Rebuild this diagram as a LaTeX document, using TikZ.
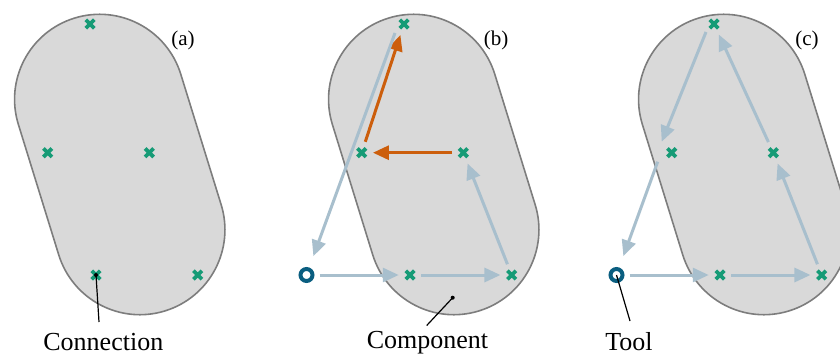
\documentclass[tikz,border=0pt]{standalone}
\usepackage{fontspec}
\setmainfont{Liberation Serif}
\usetikzlibrary{arrows.meta,shapes.misc}
\definecolor{capfill}{RGB}{217,217,217}
\definecolor{capdraw}{RGB}{125,125,125}
\definecolor{mkgreen}{RGB}{22,155,118}
\definecolor{arrblue}{RGB}{168,191,205}
\definecolor{arrorange}{RGB}{204,94,12}
\definecolor{toolblue}{RGB}{10,94,128}
\begin{document}
\begin{tikzpicture}[x=1pt,y=-1pt,
 capsule/.style={rounded rectangle, draw=capdraw, fill=capfill, line width=1.6pt, minimum width=306.5pt, minimum height=170pt, inner sep=0pt, rotate=-72.8},
 xmark/.style={cross out, draw=mkgreen, line width=3.8pt, minimum size=8.5pt, inner sep=0pt, outer sep=0pt},
 tool/.style={circle, draw=toolblue, line width=4pt, minimum size=12pt, inner sep=0pt, outer sep=0pt, fill=white},
 conn/.style={draw=arrblue, line width=3pt, -{Triangle[length=16pt,width=14pt]}, shorten <=7pt, shorten >=7pt},
 orconn/.style={conn, draw=arrorange},
 lbl/.style={font=\fontsize{26}{30}\selectfont, anchor=base, inner sep=0pt},
 tag/.style={font=\fontsize{21}{25}\selectfont, inner sep=0pt},
 leader/.style={draw=black, line width=1.2pt},
 dotmark/.style={circle, fill=black, inner sep=0pt, minimum size=4pt}
]
\path[use as bounding box] (0,0) rectangle (840,356);
\clip (0,0) rectangle (840,356);

% capsules
\node[capsule] (capa) at (119.75,164.5) {};
\node[capsule] (capb) at (433.75,164.5) {};
\node[capsule] (capc) at (743.75,164.5) {};

% panel tags
\node[tag] (taga) at (183,40) {(a)};
\node[tag] (tagb) at (496,40) {(b)};
\node[tag] (tagc) at (807,40) {(c)};

% connection points
\node[xmark] (a1) at (90,24) {};
\node[xmark] (a2) at (47.7,152.7) {};
\node[xmark] (a3) at (149.3,152.7) {};
\node[xmark] (a4) at (96,275) {};
\node[xmark] (a5) at (197.7,275) {};

\node[xmark] (b1) at (404,24) {};
\node[xmark] (b2) at (361.7,152.7) {};
\node[xmark] (b3) at (463.3,152.7) {};
\node[xmark] (b4) at (410,275) {};
\node[xmark] (b5) at (511.7,275) {};

\node[xmark] (c1) at (714,24) {};
\node[xmark] (c2) at (671.7,152.7) {};
\node[xmark] (c3) at (773.3,152.7) {};
\node[xmark] (c4) at (720,275) {};
\node[xmark] (c5) at (821.7,275) {};

% tools
\node[tool] (tb) at (306.5,275) {};
\node[tool] (tc) at (616.5,275) {};

% panel (b) paths
\draw[conn] (tb) -- (b4);
\draw[conn] (b4) -- (b5);
\draw[conn] (b5) -- (b3);
\draw[orconn] (b3) -- (b2);
\draw[orconn] (b2) -- (b1);
\draw[conn, shorten <=0pt, shorten >=14pt] ([shift={(-9,9)}]b1.center) -- (tb);

% panel (c) paths
\draw[conn] (tc) -- (c4);
\draw[conn] (c4) -- (c5);
\draw[conn] (c5) -- (c3);
\draw[conn] (c3) -- (c1);
\draw[conn, shorten <=0pt, shorten >=0pt] ([shift={(-8,8)}]c1.center) -- ([shift={(-10,-11)}]c2.center);
\draw[conn, shorten <=0pt, shorten >=14pt] ([shift={(-14,9)}]c2.center) -- (tc);

% labels
\node[dotmark] (da) at (a4.center) {};
\coordinate (la) at (99,322);
\draw[leader] (da.center) -- (la);
\node[lbl] (tconn) at (103.3,350.5) {Connection};

\node[dotmark] (db) at (452.7,297.7) {};
\coordinate (lb) at (426.7,325.5);
\draw[leader] (db.center) -- (lb);
\node[lbl] (tcomp) at (427.5,348.5) {Component};

\coordinate (lc) at (630,321);
\draw[leader] (tc.center) -- (lc);
\node[lbl] (ttool) at (629,350.5) {Tool};
\end{tikzpicture}
\end{document}
